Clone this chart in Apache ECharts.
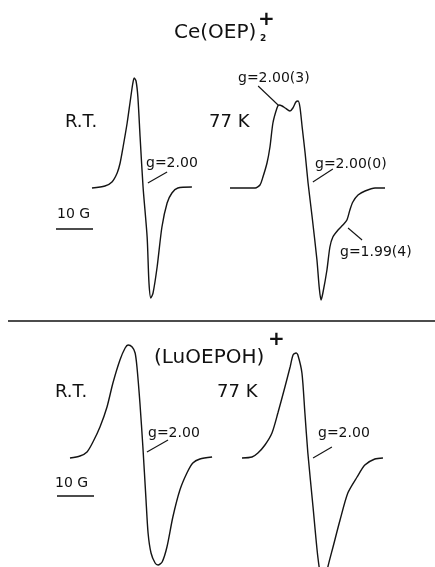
<!DOCTYPE html>
<html>
<head>
<meta charset="utf-8">
<script src="https://cdn.jsdelivr.net/npm/echarts@6/dist/echarts.min.js"></script>
<style>html,body{margin:0;padding:0;background:#fff}#c{width:435px;height:567px}</style>
</head>
<body>
<div id="c"></div>
<script>
// ---- Data: field offset (G) from start of sweep, derivative signal (a.u.) ----
var ceRtField  = [0, 3.5, 5.4, 6.8, 7.6, 8.4, 9.5, 10.3, 11.0, 11.4, 11.9, 12.4, 13.0, 13.8, 14.9, 15.4, 15.9, 16.5, 17.6, 18.9, 20.3, 21.6, 23.2, 27.0];
var ceRtSignal = [0, 2, 6, 15, 25, 41, 65, 86, 104, 110, 107, 91, 51, 1, -49, -95, -110, -105, -79, -39, -15, -5, 0, 1];

var ce77Field  = [0, 6.8, 8.1, 8.9, 10.0, 10.8, 11.6, 12.7, 13.2, 14.1, 14.9, 16.2, 17.0, 17.8, 18.4, 18.9, 19.5, 20.3, 21.1, 22.2, 23.5, 24.1, 24.6, 25.1, 26.2, 27.0, 27.8, 29.2, 30.5, 31.6, 32.4, 33.2, 34.6, 36.5, 39.2, 41.9];
var ce77Signal = [0, 0, 3, 11, 25, 41, 65, 80, 83, 82, 80, 77, 80, 86, 87, 81, 61, 35, 5, -29, -72, -99, -112, -105, -82, -59, -49, -42, -37, -32, -22, -14, -7, -3, 0, 0];

var luRtField  = [0, 2.7, 4.6, 6.2, 8.1, 10.0, 11.6, 13.5, 14.9, 15.7, 16.8, 17.6, 18.1, 18.9, 19.7, 20.5, 21.1, 21.9, 23.0, 23.8, 24.9, 26.2, 27.8, 29.7, 31.6, 33.2, 35.1, 38.4];
var luRtSignal = [0, 2, 6, 16, 31, 51, 75, 98, 110, 113, 111, 105, 91, 55, 11, -39, -75, -95, -105, -107, -104, -89, -59, -32, -15, -5, -1, 1];

var lu77Field  = [0, 2.7, 4.3, 6.2, 8.1, 9.7, 11.6, 13.0, 13.8, 14.6, 15.1, 16.2, 17.0, 17.8, 19.2, 20.5, 21.6, 22.4, 23.2, 24.6, 26.5, 28.6, 31.1, 33.2, 35.9, 38.1];
var lu77Signal = [0, 1, 5, 13, 25, 45, 71, 91, 103, 105, 103, 85, 45, 5, -49, -99, -124, -125, -109, -89, -62, -35, -19, -7, -1, 0];

// g-value annotations: [label, field at curve, signal at curve, field at label end, signal at label end]
var ceRtMarks = [["g=2.00", 15.1, 5, 20.3, 16]];
var ce77Marks = [["g=2.00(3)", 13.0, 83, 7.6, 102], ["g=2.00(0)", 22.4, 6, 27.8, 19], ["g=1.99(4)", 31.9, -40, 35.7, -52]];
var luRtMarks = [["g=2.00", 20.8, 6, 26.5, 18]];
var lu77Marks = [["g=2.00", 19.2, 0, 24.3, 11]];

var titles = ["Ce(OEP)", "(LuOEPOH)"];
var tempLabels = ["R.T.", "77 K"];
var scaleLabel = "10 G";
var scaleGauss = 10;

// ---- Layout ----
var PX_PER_G = 3.7;
var panels = [
  {name: "Ce(OEP)2+ R.T.", f: ceRtField, s: ceRtSignal, m: ceRtMarks, x0: 92, y0: 188, w: 27, ymin: -125, ymax: 125},
  {name: "Ce(OEP)2+ 77 K", f: ce77Field, s: ce77Signal, m: ce77Marks, x0: 230, y0: 188, w: 42, ymin: -125, ymax: 125},
  {name: "(LuOEPOH)+ R.T.", f: luRtField, s: luRtSignal, m: luRtMarks, x0: 70, y0: 458, w: 38.5, ymin: -109, ymax: 125},
  {name: "(LuOEPOH)+ 77 K", f: lu77Field, s: lu77Signal, m: lu77Marks, x0: 242, y0: 458, w: 38.5, ymin: -109, ymax: 125}
];

var grids = [], xAxes = [], yAxes = [], series = [];
panels.forEach(function (p, i) {
  grids.push({left: p.x0, top: p.y0 - p.ymax, width: p.w * PX_PER_G, height: p.ymax - p.ymin});
  xAxes.push({type: 'value', gridIndex: i, min: 0, max: p.w, show: false});
  yAxes.push({type: 'value', gridIndex: i, min: p.ymin, max: p.ymax, show: false});
  var data = p.f.map(function (v, k) { return [v, p.s[k]]; });
  series.push({
    type: 'line', name: p.name, xAxisIndex: i, yAxisIndex: i, data: data,
    smooth: 0.25, showSymbol: false, symbol: 'none', clip: false,
    lineStyle: {color: '#141414', width: 1.4},
    silent: true,
    markLine: {
      symbol: 'none', silent: true, animation: false,
      label: {show: false},
      lineStyle: {color: '#141414', width: 1.1, type: 'solid'},
      emphasis: {disabled: true},
      data: p.m.map(function (a) { return [{coord: [a[1], a[2]]}, {coord: [a[3], a[4]]}]; })
    }
  });
});

var FONT = '"DejaVu Sans", "Liberation Sans", sans-serif';
function txt(t, x, y, size, align, weight) {
  return {type: 'text', x: x, y: y, silent: true, style: {
    text: t, fill: '#111', font: (weight || 'normal') + ' ' + size + 'px ' + FONT,
    textAlign: align || 'left', textVerticalAlign: 'middle'}};
}
function hline(x1, x2, y, w) {
  return {type: 'line', silent: true, shape: {x1: x1, y1: y, x2: x2, y2: y}, style: {stroke: '#111', lineWidth: w}};
}
var barLen = scaleGauss * PX_PER_G;
var graphics = [
  txt(titles[0], 174, 33, 20),
  txt("2", 260, 39, 9, 'left', 'bold'),
  txt("+", 258, 20, 20, 'left', 'bold'),
  txt(tempLabels[0], 65, 122, 18),
  txt(tempLabels[1], 209, 122, 18),
  txt(ceRtMarks[0][0], 146, 163, 14),
  txt(ce77Marks[0][0], 238, 78, 14),
  txt(ce77Marks[1][0], 315, 164, 14),
  txt(ce77Marks[2][0], 340, 252, 14),
  txt(scaleLabel, 57, 214, 14),
  hline(56, 56 + barLen, 229, 1.5),
  hline(8, 435, 321, 1.5),
  txt(titles[1], 154, 358, 20),
  txt("+", 268, 340, 20, 'left', 'bold'),
  txt(tempLabels[0], 55, 392, 18),
  txt(tempLabels[1], 217, 392, 18),
  txt(luRtMarks[0][0], 148, 433, 14),
  txt(lu77Marks[0][0], 318, 433, 14),
  txt(scaleLabel, 55, 483, 14),
  hline(57, 57 + barLen, 496, 1.5)
];

var chart = echarts.init(document.getElementById('c'), null, {renderer: 'canvas'});
chart.setOption({
  animation: false,
  backgroundColor: '#fff',
  grid: grids, xAxis: xAxes, yAxis: yAxes, series: series,
  graphic: graphics
});
</script>
</body>
</html>
